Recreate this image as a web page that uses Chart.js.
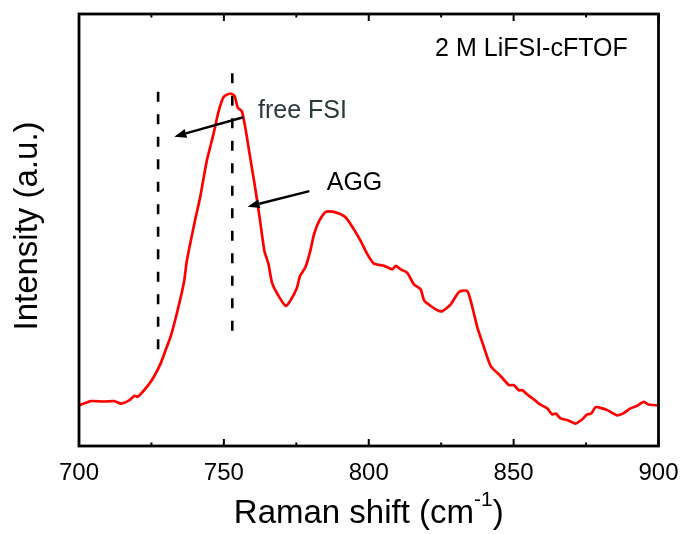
<!DOCTYPE html>
<html>
<head>
<meta charset="utf-8">
<title>Raman spectrum – 2 M LiFSI-cFTOF</title>
<script src="https://cdn.jsdelivr.net/npm/chart.js@4/dist/chart.umd.min.js"></script>
<style>
  html, body { margin: 0; padding: 0; background: #fff; }
  #wrap { width: 683px; height: 534px; }
</style>
</head>
<body>
<div id="wrap"><canvas id="c" width="683" height="534"></canvas></div>
<script>
// Raman shift (cm-1) and measured intensity (a.u.)
const ramanShift = [
  700.0, 704.1, 708.7, 712.2, 714.5, 717.4, 719.1, 720.3, 723.7, 726.0,
  728.3, 730.0, 731.7, 734.0, 736.3, 737.2, 740.0, 741.8, 744.1, 746.4,
  748.2, 749.9, 752.2, 753.7, 754.8, 756.2, 757.4, 759.1, 760.8, 762.5,
  764.0, 765.4, 766.6, 768.9, 771.4, 772.9, 775.2, 776.3, 778.1, 779.8,
  781.1, 782.9, 785.2, 788.0, 791.5, 793.8, 797.2, 799.5, 801.8, 805.3,
  808.2, 809.3, 811.0, 813.3, 815.6, 817.9, 819.1, 821.4, 823.7, 825.4,
  828.3, 831.2, 834.0, 835.8, 837.5, 839.8, 842.1, 845.5, 848.4, 850.1,
  851.8, 853.0, 855.3, 857.0, 858.7, 861.6, 863.3, 864.5, 866.2, 868.5,
  871.4, 873.7, 875.4, 876.8, 878.3, 880.6, 882.3, 885.7, 888.0, 890.3,
  892.6, 894.9, 896.6, 900.0
];
const intensity = [
  9.4, 10.4, 10.3, 10.4, 9.8, 10.6, 11.6, 11.4, 13.9, 16.2,
  19.3, 22.4, 25.5, 31.3, 38.2, 42.8, 52.1, 57.5, 66.0, 72.2,
  77.5, 80.8, 81.6, 81.0, 78.3, 77.5, 73.7, 66.7, 59.8, 52.1,
  45.1, 42.1, 37.8, 34.7, 32.4, 33.6, 36.6, 39.4, 41.3, 45.1,
  49.0, 52.1, 54.2, 54.2, 53.2, 51.3, 47.5, 44.4, 42.2, 41.7,
  40.9, 41.7, 40.9, 40.1, 37.4, 36.3, 33.7, 32.4, 31.4, 31.2,
  32.8, 35.7, 35.9, 32.0, 27.4, 22.8, 18.5, 16.2, 14.1, 14.1,
  12.9, 12.9, 11.6, 10.8, 9.8, 8.7, 7.3, 7.5, 6.4, 6.0,
  5.2, 6.2, 7.3, 7.5, 9.0, 8.7, 8.3, 7.1, 7.6, 8.7,
  9.3, 10.2, 9.6, 9.4
];

// Vertical dashed guides: position (cm-1) and [top, bottom] intensity
const guideShifts = [727.3, 752.9];
const guideSpans = [[82.0, 22.2], [86.3, 26.5]];

// Axis ticks
const xTickLabels = [700, 750, 800, 850, 900];
const xMinorTicks = [725, 775, 825, 875];

// Annotations: text and arrows (data units)
const annotationTexts = ['free FSI', 'AGG', '2 M LiFSI-cFTOF'];
const arrowFrom = [[756.7, 76.1], [779.5, 59.0]];
const arrowTo   = [[732.9, 71.6], [758.2, 55.4]];

const FONT = '"Liberation Sans", Arial, Helvetica, sans-serif';

const datasets = [{
  label: 'spectrum',
  data: ramanShift.map((x, i) => ({ x: x, y: intensity[i] })),
  borderColor: '#ff0000',
  borderWidth: 2.7,
  pointRadius: 0,
  tension: 0.2,
  order: 0
}];
guideShifts.forEach((x, i) => {
  datasets.push({
    label: 'guide' + i,
    data: [{ x: x, y: guideSpans[i][0] }, { x: x, y: guideSpans[i][1] }],
    borderColor: '#000',
    borderWidth: 2.6,
    borderDash: [10, 12.5],
    pointRadius: 0,
    order: 1
  });
});

const decorations = {
  id: 'decorations',
  afterDraw(chart) {
    const ctx = chart.ctx;
    const a = chart.chartArea;
    const xs = chart.scales.x, ys = chart.scales.y;
    ctx.save();

    // frame
    ctx.strokeStyle = '#000';
    ctx.lineWidth = 2.8;
    ctx.strokeRect(a.left, a.top, a.right - a.left, a.bottom - a.top);

    // inward ticks on bottom and top edges
    ctx.lineWidth = 2;
    const tick = (v, len) => {
      const px = xs.getPixelForValue(v);
      ctx.beginPath();
      ctx.moveTo(px, a.bottom); ctx.lineTo(px, a.bottom - len);
      ctx.moveTo(px, a.top); ctx.lineTo(px, a.top + len);
      ctx.stroke();
    };
    xTickLabels.forEach(v => tick(v, 7));
    xMinorTicks.forEach(v => tick(v, 3.5));

    // arrows
    ctx.fillStyle = '#000';
    arrowFrom.forEach((f, i) => {
      const x0 = xs.getPixelForValue(f[0]), y0 = ys.getPixelForValue(f[1]);
      const x1 = xs.getPixelForValue(arrowTo[i][0]), y1 = ys.getPixelForValue(arrowTo[i][1]);
      const ang = Math.atan2(y1 - y0, x1 - x0);
      const hl = 12, hw = 4.5;
      const bx = x1 - hl * Math.cos(ang), by = y1 - hl * Math.sin(ang);
      ctx.lineWidth = 2.4;
      ctx.beginPath();
      ctx.moveTo(x0, y0); ctx.lineTo(bx, by);
      ctx.stroke();
      ctx.beginPath();
      ctx.moveTo(x1, y1);
      ctx.lineTo(bx + hw * Math.sin(ang), by - hw * Math.cos(ang));
      ctx.lineTo(bx - hw * Math.sin(ang), by + hw * Math.cos(ang));
      ctx.closePath();
      ctx.fill();
    });

    // annotation texts
    ctx.textBaseline = 'middle';
    ctx.textAlign = 'left';
    ctx.font = '25px ' + FONT;
    ctx.fillStyle = '#283a3a';
    ctx.fillText(annotationTexts[0], xs.getPixelForValue(761.8), ys.getPixelForValue(77.6));
    ctx.fillStyle = '#000';
    ctx.fillText(annotationTexts[1], xs.getPixelForValue(785.5), ys.getPixelForValue(60.8));
    ctx.fillText(annotationTexts[2], xs.getPixelForValue(822.9), ys.getPixelForValue(91.8));

    // x-axis title with superscript
    const cx = (a.left + a.right) / 2;
    const base = 523;
    const mainFont = '33px ' + FONT, supFont = '21px ' + FONT;
    const t1 = 'Raman shift (cm', t2 = '-1', t3 = ')';
    ctx.font = mainFont; const w1 = ctx.measureText(t1).width, w3 = ctx.measureText(t3).width;
    ctx.font = supFont; const w2 = ctx.measureText(t2).width;
    let x = cx - (w1 + w2 + w3) / 2;
    ctx.textBaseline = 'alphabetic';
    ctx.fillStyle = '#000';
    ctx.font = mainFont; ctx.fillText(t1, x, base); x += w1;
    ctx.font = supFont; ctx.fillText(t2, x, base - 17); x += w2;
    ctx.font = mainFont; ctx.fillText(t3, x, base);

    // y-axis title
    ctx.translate(37, (a.top + a.bottom) / 2 - 4);
    ctx.rotate(-Math.PI / 2);
    ctx.textAlign = 'center';
    ctx.font = mainFont;
    ctx.fillText('Intensity (a.u.)', 0, 0);
    ctx.restore();
  }
};

new Chart(document.getElementById('c'), {
  type: 'line',
  data: { datasets: datasets },
  options: {
    responsive: false,
    animation: false,
    layout: { padding: { top: 14, right: 24.5, left: 0, bottom: 0 } },
    plugins: { legend: { display: false }, tooltip: { enabled: false } },
    scales: {
      x: {
        type: 'linear',
        position: 'bottom',
        min: 700, max: 900,
        afterFit(s) { s.height = 88; s.paddingLeft = 0; s.paddingRight = 0; },
        afterBuildTicks(s) { s.ticks = xTickLabels.map(v => ({ value: v })); },
        grid: { display: false, drawTicks: false },
        border: { display: false },
        ticks: {
          color: '#000',
          font: { family: FONT, size: 24 },
          padding: 13,
          maxRotation: 0,
          autoSkip: false
        }
      },
      y: {
        min: 0, max: 100,
        afterFit(s) { s.width = 79; },
        grid: { display: false },
        border: { display: false },
        ticks: { display: false }
      }
    }
  },
  plugins: [decorations]
});
</script>
</body>
</html>
